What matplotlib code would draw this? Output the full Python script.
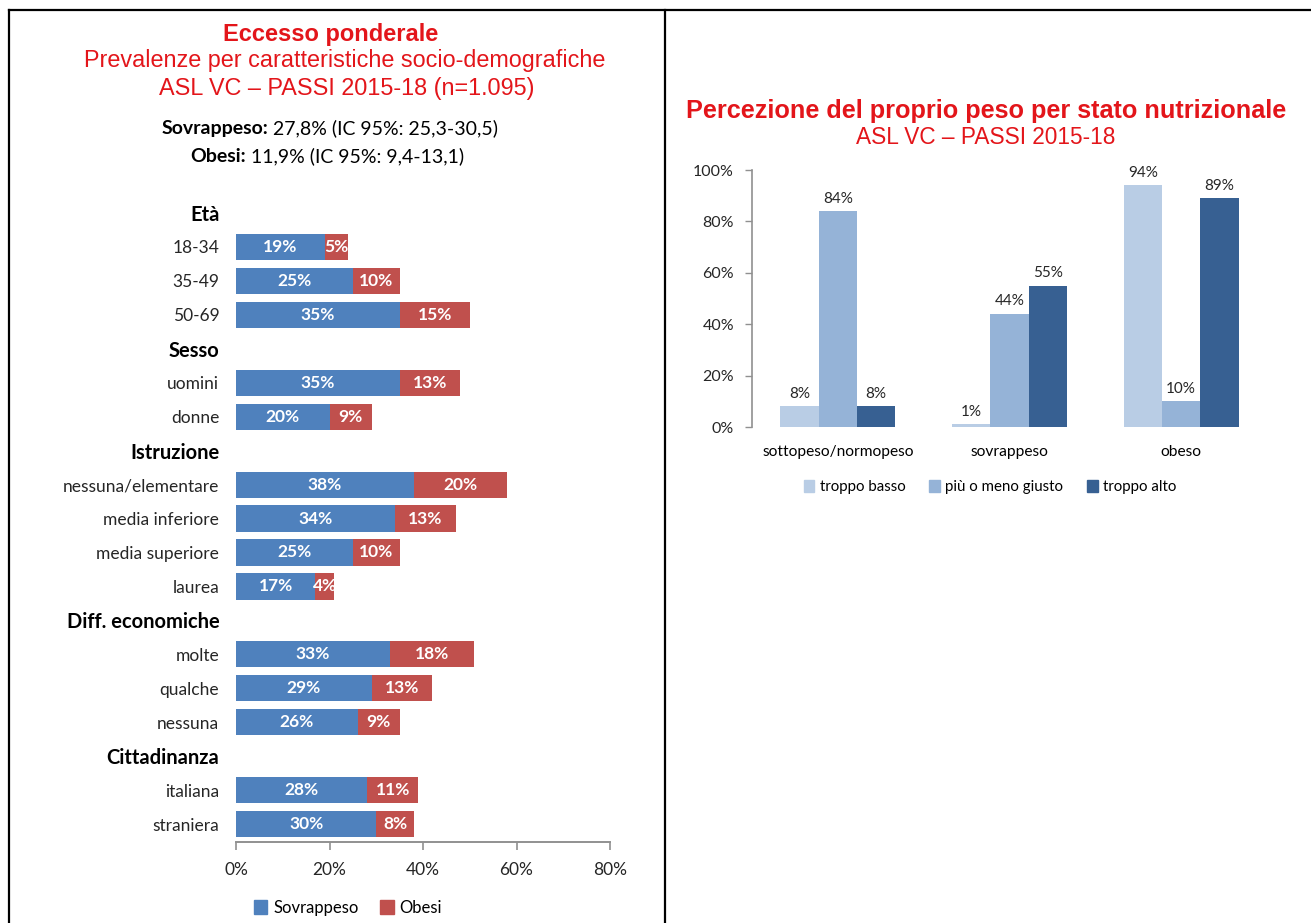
import matplotlib
matplotlib.use("Agg")
import matplotlib.pyplot as plt
from matplotlib.lines import Line2D
from matplotlib.patches import Patch
import numpy as np

# ---------------- data ----------------
groups = ["Età", "Sesso", "Istruzione", "Diff. economiche", "Cittadinanza"]
group_items = [
    ["18-34", "35-49", "50-69"],
    ["uomini", "donne"],
    ["nessuna/elementare", "media inferiore", "media superiore", "laurea"],
    ["molte", "qualche", "nessuna"],
    ["italiana", "straniera"],
]
sovrappeso = [19, 25, 35, 35, 20, 38, 34, 25, 17, 33, 29, 26, 28, 30]
obesi = [5, 10, 15, 13, 9, 20, 13, 10, 4, 18, 13, 9, 11, 8]
left_xticks = [0, 20, 40, 60, 80]

stati = ["sottopeso/normopeso", "sovrappeso", "obeso"]
troppo_basso = [8, 1, 94]
giusto = [84, 44, 10]
troppo_alto = [8, 55, 89]
right_yticks = [0, 20, 40, 60, 80, 100]

# ---------------- styling ----------------
W, H = 1311, 923
CAL = ["Lato", "DejaVu Sans"]
ARI = ["Liberation Sans", "DejaVu Sans"]
RED = "#E3151A"
BLUE = "#4F81BD"
DRED = "#C0504D"
TXT = "#262626"
C_LIGHT, C_MID, C_DARK = "#B9CDE5", "#95B3D7", "#376092"

fig = plt.figure(figsize=(W / 100, H / 100), dpi=100)
fig.patch.set_facecolor("white")

def fx(px):
    return px / W

def fy(py):
    return 1 - py / H

# border lines
for (x0, y0, x1, y1) in [(9, 10, 1311, 10), (9, 10, 9, 923), (665, 10, 665, 923)]:
    fig.add_artist(Line2D([fx(x0), fx(x1)], [fy(y0), fy(y1)], color="black", lw=1.6))

# ---------------- left header ----------------
fig.text(fx(331), fy(34), "Eccesso ponderale", ha="center", va="center",
         color=RED, fontsize=17, fontweight="bold", family=ARI)
fig.text(fx(345), fy(61), "Prevalenze per caratteristiche socio-demografiche", ha="center",
         va="center", color=RED, fontsize=16.8, family=ARI)
fig.text(fx(347), fy(89), "ASL VC – PASSI 2015-18 (n=1.095)", ha="center",
         va="center", color=RED, fontsize=16.8, family=ARI)

def mixed_line(xc, yc, bold, rest, size):
    t1 = fig.text(0, fy(yc + 5), bold, ha="left", va="baseline", fontsize=size,
                  fontweight="bold", family=CAL, color="black")
    t2 = fig.text(0, fy(yc + 5), rest, ha="left", va="baseline", fontsize=size,
                  family=CAL, color="black")
    r = fig.canvas.get_renderer()
    w1 = t1.get_window_extent(r).width
    w2 = t2.get_window_extent(r).width
    x0 = xc - (w1 + w2) / 2
    t1.set_x(fx(x0))
    t2.set_x(fx(x0 + w1))

mixed_line(330, 129, "Sovrappeso:", " 27,8% (IC 95%: 25,3-30,5)", 14)
mixed_line(327, 157, "Obesi:", " 11,9% (IC 95%: 9,4-13,1)", 14)

# ---------------- left chart ----------------
row_labels, row_bold, bar_rows = [], [], []
r = 0
for g, items in zip(groups, group_items):
    row_labels.append(g)
    row_bold.append(True)
    r += 1
    for it in items:
        row_labels.append(it)
        row_bold.append(False)
        bar_rows.append(r)
        r += 1
nrows = len(row_labels)

top_lim, bot_lim = -0.58, nrows - 1 + 0.53
spacing = 33.95
ax_top_px = 213 + top_lim * spacing
ax_bot_px = 213 + bot_lim * spacing
axL = fig.add_axes([fx(236), fy(ax_bot_px), fx(610) - fx(236), (ax_bot_px - ax_top_px) / H])
bar_rows = np.array(bar_rows)
s = np.array(sovrappeso)
o = np.array(obesi)
b1 = axL.barh(bar_rows, s, height=0.77, color=BLUE, label="Sovrappeso")
b2 = axL.barh(bar_rows, o, left=s, height=0.77, color=DRED, label="Obesi")
axL.bar_label(b1, labels=[f"{v}%" for v in s], label_type="center", color="white",
              fontsize=12.5, fontweight="bold", family=CAL)
axL.bar_label(b2, labels=[f"{v}%" for v in o], label_type="center", color="white",
              fontsize=12.5, fontweight="bold", family=CAL)
axL.set_xlim(0, 80)
axL.set_ylim(bot_lim, top_lim)
axL.set_yticks(range(nrows))
axL.set_yticklabels(row_labels)
for lab, bold in zip(axL.get_yticklabels(), row_bold):
    lab.set_family(CAL)
    if bold:
        lab.set_fontweight("bold")
        lab.set_fontsize(14.5)
        lab.set_color("black")
    else:
        lab.set_fontsize(12.5)
        lab.set_color(TXT)
axL.tick_params(axis="y", length=0, pad=12)
axL.set_xticks(left_xticks)
axL.set_xticklabels([f"{v}%" for v in left_xticks], family=CAL, fontsize=12.5, color=TXT)
axL.tick_params(axis="x", length=6, width=1.2, color="#909090", pad=8)
for sp in ["top", "right", "left"]:
    axL.spines[sp].set_visible(False)
axL.spines["bottom"].set_color("#909090")
axL.spines["bottom"].set_linewidth(1.4)
axL.set_facecolor("none")

fig.legend(handles=[Patch(color=BLUE, label="Sovrappeso"), Patch(color=DRED, label="Obesi")],
           loc="center", bbox_to_anchor=(fx(348), fy(908)), ncol=2, frameon=False,
           handlelength=0.8, handleheight=0.9, handletextpad=0.35, columnspacing=1.3,
           prop={"family": CAL, "size": 12})

# ---------------- right header ----------------
fig.text(fx(986), fy(111), "Percezione del proprio peso per stato nutrizionale", ha="center",
         va="center", color=RED, fontsize=18.2, fontweight="bold", family=ARI)
fig.text(fx(986), fy(137), "ASL VC – PASSI 2015-18", ha="center", va="center",
         color=RED, fontsize=16.3, family=ARI)

# ---------------- right chart ----------------
axR = fig.add_axes([fx(752), fy(427), fx(1267) - fx(752), (427 - 170) / H])
x = np.arange(len(stati))
bw = 0.223
series = [(troppo_basso, C_LIGHT, "troppo basso"), (giusto, C_MID, "più o meno giusto"),
          (troppo_alto, C_DARK, "troppo alto")]
for i, (vals, col, lab) in enumerate(series):
    bars = axR.bar(x + (i - 1) * bw, vals, width=bw, color=col, label=lab)
    axR.bar_label(bars, labels=[f"{v}%" for v in vals], padding=4, fontsize=11,
                  family=CAL, color=TXT)
axR.set_xlim(-0.5, 2.5)
axR.set_ylim(0, 100)
axR.set_yticks(right_yticks)
axR.set_yticklabels([f"{v}%" for v in right_yticks], family=CAL, fontsize=11.5, color=TXT)
axR.set_xticks(x)
axR.set_xticklabels(stati, family=CAL, fontsize=11.2, color="black")
axR.tick_params(axis="x", length=0, pad=13)
axR.tick_params(axis="y", length=5, width=1, color="#909090", pad=8)
for sp in ["top", "right", "bottom"]:
    axR.spines[sp].set_visible(False)
axR.spines["left"].set_color("#909090")
axR.spines["left"].set_linewidth(1.2)
axR.set_facecolor("none")

axR.legend(handles=[Patch(color=c, label=l) for _, c, l in series], loc="center",
           bbox_to_anchor=(fx(990), fy(487)), bbox_transform=fig.transFigure, ncol=3,
           frameon=False, handlelength=0.7, handleheight=0.9, handletextpad=0.35,
           columnspacing=1.6, prop={"family": CAL, "size": 10.8})

fig.savefig("out.png", dpi=100, facecolor="white")
